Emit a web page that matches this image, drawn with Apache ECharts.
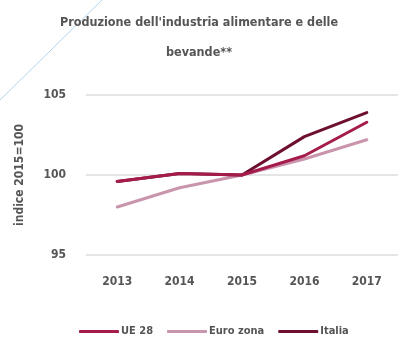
<!DOCTYPE html>
<html>
<head>
<meta charset="utf-8">
<script src="https://cdn.jsdelivr.net/npm/echarts@6/dist/echarts.min.js"></script>
<style>
  html, body { margin: 0; padding: 0; background: #ffffff; }
  #chart { width: 398px; height: 340px; }
</style>
</head>
<body>
<div id="chart"></div>
<script>
// Indice della produzione (2015 = 100)
const years = ['2013', '2014', '2015', '2016', '2017'];
const ue28 = [99.6, 100.1, 100, 101.2, 103.3];
const euroZona = [98.0, 99.2, 100, 101.0, 102.2];
const italia = [99.6, 100.1, 100, 102.4, 103.9];
const yTicks = [95, 100, 105];

const FONT = '"DejaVu Sans Condensed", "Liberation Sans Narrow", sans-serif';
const GREY = '#555555';

const chart = echarts.init(document.getElementById('chart'), null, { renderer: 'canvas' });

function lineSeries(name, data, color, z) {
  return {
    name: name,
    type: 'line',
    data: data,
    symbol: 'none',
    smooth: false,
    z: z,
    lineStyle: { color: color, width: 3, cap: 'round', join: 'round' },
    itemStyle: { color: color }
  };
}

chart.setOption({
  animation: false,
  textStyle: { fontFamily: FONT },
  title: {
    text: "Produzione dell'industria alimentare e delle\nbevande**",
    left: 'center',
    top: 3,
    textStyle: {
      fontFamily: FONT,
      fontWeight: 'bold',
      fontSize: 12.5,
      lineHeight: 30,
      color: GREY
    }
  },
  graphic: [{
    type: 'line',
    silent: true,
    shape: { x1: 102, y1: 0, x2: 0, y2: 100 },
    style: { stroke: '#b5d6ea', lineWidth: 1 }
  }],
  legend: {
    bottom: -2,
    left: 74,
    itemWidth: 40,
    itemHeight: 3,
    itemGap: 14,
    icon: 'roundRect',
    textStyle: { fontFamily: FONT, fontWeight: 'bold', fontSize: 11, color: GREY, padding: [0, 0, 0, -3] },
    data: ['UE 28', 'Euro zona', 'Italia']
  },
  grid: { left: 86, right: -8, top: 95, bottom: 85 },
  xAxis: {
    type: 'category',
    data: years,
    boundaryGap: true,
    axisLine: { show: false },
    axisTick: { show: false },
    axisLabel: { color: GREY, fontFamily: FONT, fontWeight: 'bold', fontSize: 12, margin: 21 }
  },
  yAxis: {
    type: 'value',
    min: yTicks[0],
    max: yTicks[yTicks.length - 1],
    interval: 5,
    name: 'indice 2015=100',
    nameLocation: 'middle',
    nameRotate: 90,
    nameGap: 60,
    nameTextStyle: { color: GREY, fontFamily: FONT, fontWeight: 'bold', fontSize: 12 },
    axisLine: { show: false },
    axisTick: { show: false },
    axisLabel: { color: GREY, fontFamily: FONT, fontWeight: 'bold', fontSize: 12, margin: 20 },
    splitLine: { lineStyle: { color: '#dcdcdc', width: 1.5 } }
  },
  series: [
    lineSeries('UE 28', ue28, '#a51c4c', 4),
    lineSeries('Euro zona', euroZona, '#c995ad', 2),
    lineSeries('Italia', italia, '#6d0f2e', 3)
  ]
});
</script>
</body>
</html>
